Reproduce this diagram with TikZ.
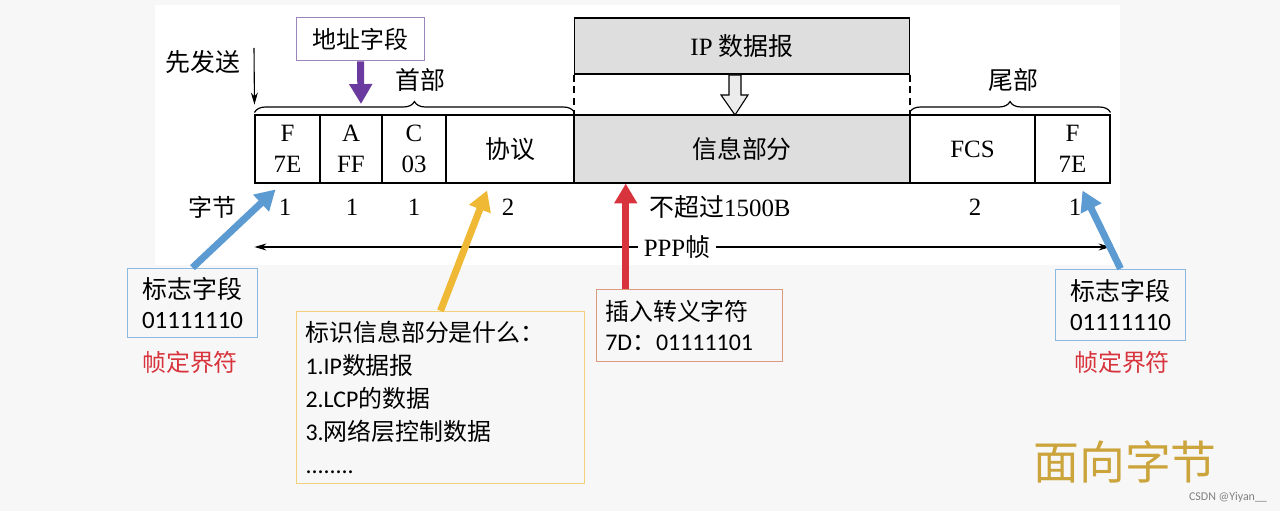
\documentclass[tikz,border=0pt]{standalone}
\usepackage{fontspec}
\setmainfont{Liberation Serif}
\newfontfamily\cjk{Noto Sans CJK SC}
\newfontfamily\calib{Carlito}
\usetikzlibrary{arrows.meta,decorations.pathreplacing}
\definecolor{pagegray}{HTML}{F7F7F7}
\definecolor{cellgray}{HTML}{DEDEDE}
\definecolor{flagblue}{HTML}{5B9BD2}
\definecolor{notered}{HTML}{D8343D}
\definecolor{addrpurple}{HTML}{6B3A9E}
\definecolor{boxpurple}{HTML}{9C84BC}
\definecolor{noteyellow}{HTML}{F0B935}
\definecolor{boxyellow}{HTML}{F1D27A}
\definecolor{boxorange}{HTML}{D99A7E}
\definecolor{gold}{HTML}{CCA43C}
\tikzset{
	cell/.style={draw, line width=1.3pt, minimum height=68, inner sep=0, align=center,
		font=\fontsize{25}{31}\selectfont},
	note/.style={draw, line width=1pt, inner sep=0, font=\calib\fontsize{25}{31}\selectfont},
	fatarrow/.style={line width=7pt, -{Triangle[length=20pt,width=22pt]}},
	thinarrow/.style={line width=1.1pt, -{Stealth[length=12pt,width=7pt]}},
	hdbrace/.style={line width=1.2pt, decorate, decoration={brace, amplitude=11pt}}
}
\begin{document}
\begin{tikzpicture}[x=1bp,y=-1bp]
	\useasboundingbox (0,0) rectangle (1280,511);
	\fill[pagegray] (0,0) rectangle (1280,511);
	\fill[white] (155,5) rectangle (1120,265);

	\node[cell, minimum width=65] (fa) at (287.5,149) {F\\7E};
	\node[cell, minimum width=62] (addrcell) at (351,149) {A\\FF};
	\node[cell, minimum width=64] (ctrl) at (414,149) {C\\03};
	\node[cell, minimum width=128] (proto) at (510,149) {\cjk 协议};
	\node[cell, minimum width=336, fill=cellgray] (info) at (742,149) {\cjk 信息部分};
	\node[cell, minimum width=125] (fcs) at (972.5,149) {FCS};
	\node[cell, minimum width=75] (fb) at (1072.5,149) {F\\7E};

	\node[cell, minimum width=336, minimum height=56, fill=cellgray] (ip) at (742,46) {IP {\cjk 数据报}};
	\draw[line width=1.2pt, dash pattern=on 7pt off 5pt] (ip.south west) -- (info.north west);
	\draw[line width=1.2pt, dash pattern=on 7pt off 5pt] (ip.south east) -- (info.north east);
	\draw[line width=1.1pt, fill=gray!15] (729,75) -- (741,75) -- (741,95) -- (748,95) -- (735,115)
		-- (721,95) -- (729,95) -- cycle;

	\draw[hdbrace] ([yshift=2]fa.north west) -- ([yshift=2]proto.north east);
	\draw[hdbrace] ([yshift=2]fcs.north west) -- ([yshift=2]fb.north east);
	\node[font=\cjk\fontsize{25}{25}\selectfont] (head) at (420,80) {首部};
	\node[font=\cjk\fontsize{25}{25}\selectfont] (tail) at (1013,80) {尾部};

	\node[font=\cjk\fontsize{25}{25}\selectfont] (send) at (203,62) {先发送};
	\coordinate (sendtop) at (254,48);
	\draw[thinarrow] (sendtop) -- ([yshift=10]fa.north west);

	\node[note, draw=boxpurple, minimum width=129, minimum height=44,
		font=\cjk\fontsize{24}{24}\selectfont] (addr) at (360.5,39) {地址字段};
	\coordinate (headtip) at (361,104);
	\draw[fatarrow, addrpurple] (addr.south) -- (headtip);

	\node[font=\cjk\fontsize{24}{24}\selectfont] (bytes) at (212,207) {字节};
	\foreach \x/\n in {285/1,352/1,414/1,508/2,975/2,1075/1}
		\node[font=\fontsize{25}{25}\selectfont] at (\x,207) {\n};
	\node[font=\fontsize{25}{25}\selectfont] (maxlen) at (720,207) {{\cjk 不超过}1500B};

	\node[fill=white, inner xsep=6, inner ysep=2, font=\fontsize{25}{25}\selectfont] (ppp) at (677,247) {PPP{\cjk 帧}};
	\draw[thinarrow] (ppp.west) -- (fa.south west |- ppp);
	\draw[thinarrow] (ppp.east) -- (fb.south east |- ppp);

	\node[note, draw=flagblue!70, minimum width=131, minimum height=70, align=center] (flagl) at (192.5,303)
		{{\cjk 标志字段}\\01111110};
	\node[note, draw=flagblue!70, minimum width=131, minimum height=72, align=center] (flagr) at (1120.5,305)
		{{\cjk 标志字段}\\01111110};
	\node[font=\cjk\fontsize{24}{24}\selectfont, text=notered] (deliml) at (190,362) {帧定界符};
	\node[font=\cjk\fontsize{24}{24}\selectfont, text=notered] (delimr) at (1122,362) {帧定界符};
	\draw[fatarrow, flagblue] (flagl.north) -- ([xshift=-12,yshift=-6]fa.south);
	\draw[fatarrow, flagblue] (flagr.north) -- ([xshift=10,yshift=-7]fb.south);

	\node[note, draw=boxyellow, minimum width=289, minimum height=173, text width=271, inner xsep=9,
		align=left, font=\calib\fontsize{24}{33}\selectfont] (kind) at (440.5,397.5)
		{{\cjk 标识信息部分是什么：}\\1.IP{\cjk 数据报}\\2.LCP{\cjk 的数据}\\3.{\cjk 网络层控制数据}\\........};
	\draw[fatarrow, noteyellow] (kind.north) -- ([xshift=-23,yshift=-7]proto.south);

	\node[note, draw=boxorange, minimum width=187, minimum height=73, text width=169, inner xsep=9,
		align=left, font=\calib\fontsize{24}{31}\selectfont] (esc) at (689.5,325.5)
		{{\cjk 插入转义字符}\\7D{\cjk ：}01111101};
	\draw[fatarrow, notered] ([xshift=-64]esc.north) -- ([xshift=-64]esc.north |- info.south);

	\node[font=\cjk\fontsize{46}{46}\selectfont, text=gold] (title) at (1125,462) {面向字节};
	\node[font=\calib\fontsize{12}{12}\selectfont, text=gray] (mark) at (1228,497) {CSDN @Yiyan\_\_};
\end{tikzpicture}
\end{document}
